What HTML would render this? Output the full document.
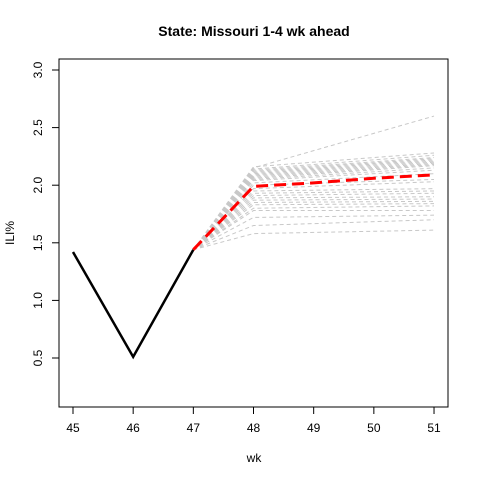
<!DOCTYPE html>
<html><head><meta charset="utf-8"><style>
body{margin:0;background:#fff}
svg{font-family:"Liberation Sans",sans-serif}
</style></head><body>
<svg id="c" width="480" height="480" viewBox="0 0 480 480" xmlns="http://www.w3.org/2000/svg">
<rect width="480" height="480" fill="#fff"/>
<text x="254" y="36" font-size="14" font-weight="bold" text-anchor="middle">State: Missouri 1-4 wk ahead</text>
<rect x="59" y="59" width="389" height="348" fill="none" stroke="#000"/>
<g id="axes"></g>
<g id="gray"></g>
<g id="main"></g>
<text x="254" y="462" font-size="12" text-anchor="middle">wk</text>
<text transform="translate(14,233) rotate(-90)" font-size="12" text-anchor="middle">ILI%</text>
</svg>
<script>
const xTicks=[45,46,47,48,49,50,51];
const yTicks=[0.5,1.0,1.5,2.0,2.5,3.0];
const obsWeeks=[45,46,47];
const obsValues=[1.42,0.51,1.44];
const fcWeeks=[47,48,49,50,51];
const meanValues=[1.44,1.99,2.02,2.06,2.09];
const grayStart=[2.16,2.15,2.14,2.13,2.12,2.11,2.10,2.09,2.08,2.07,2.06,2.05,2.04,2.02,2.00,1.97,1.95,1.93,1.91,1.89,1.87,1.85,1.83,1.80,1.78,1.72,1.65,1.58];
const grayEnd=[2.28,2.60,2.26,2.24,2.23,2.22,2.21,2.20,2.19,2.18,2.17,2.15,2.13,2.10,2.05,2.03,1.97,1.95,1.93,1.90,1.88,1.86,1.84,1.82,1.78,1.74,1.70,1.61];
const X=v=>73+(v-45)*60.17;
const Y=v=>358-(v-0.5)*115.2;
const NS="http://www.w3.org/2000/svg";
function mk(p,t,a){const e=document.createElementNS(NS,t);for(const k in a)e.setAttribute(k,a[k]);p.appendChild(e);return e;}
const ax=document.getElementById('axes');
xTicks.forEach(t=>{
 const l=mk(ax,'line',{x1:X(t),x2:X(t),y1:407,y2:414,stroke:'#000'});
 
 
 const s=mk(ax,'text',{x:X(t),y:432,'font-size':12,'text-anchor':'middle'});s.textContent=t;
 
 
});
yTicks.forEach(t=>{
 const l=mk(ax,'line',{x1:52,x2:59,y1:Y(t),y2:Y(t),stroke:'#000'});
 
 
 const s=mk(ax,'text',{x:0,y:0,'font-size':12,'text-anchor':'middle',transform:`translate(42,${Y(t)}) rotate(-90)`});s.textContent=t.toFixed(1);
 
 
});
const g=document.getElementById('gray');
grayStart.forEach((s,i)=>{
 const e=grayEnd[i];
 const pts=[[47,1.44],[48,s],[51,e]].map(p=>X(p[0])+','+Y(p[1])).join(' ');
 const pl=mk(g,'polyline',{points:pts,fill:'none',stroke:'#c8c8c8','stroke-width':1,'stroke-dasharray':'4 3'});
 
 
});
const m=document.getElementById('main');
const ob=mk(m,'polyline',{points:obsWeeks.map((w,i)=>X(w)+','+Y(obsValues[i])).join(' '),fill:'none',stroke:'#000','stroke-width':2.5});


const mn=mk(m,'polyline',{points:fcWeeks.map((w,i)=>X(w)+','+Y(meanValues[i])).join(' '),fill:'none',stroke:'#f00','stroke-width':3,'stroke-dasharray':'12 6'});


</script>
</body></html>
